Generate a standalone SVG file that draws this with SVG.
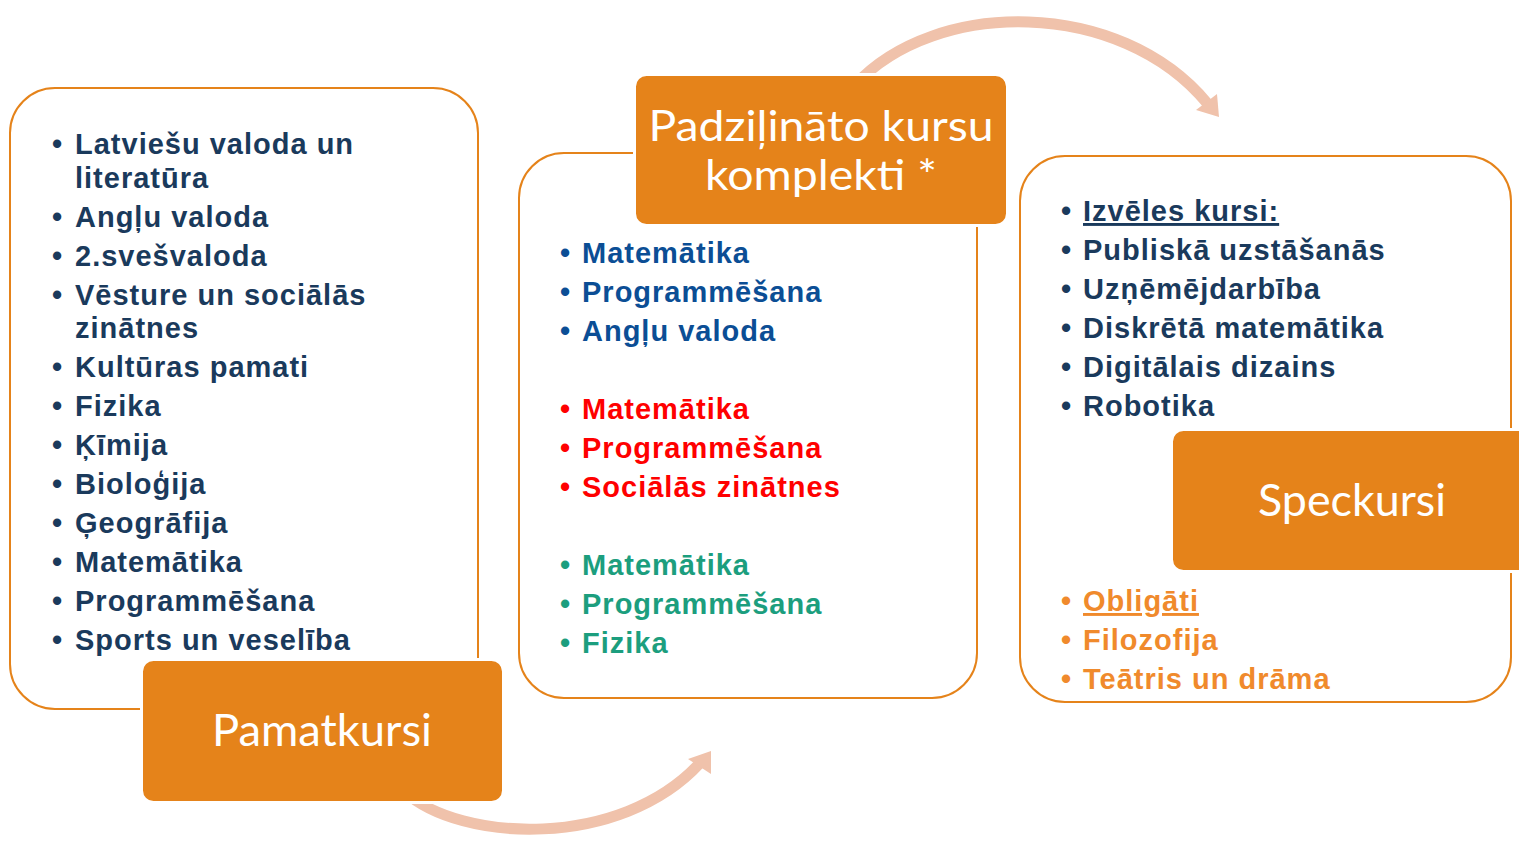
<svg xmlns="http://www.w3.org/2000/svg" width="1519" height="842" viewBox="0 0 1519 842">
<style>
.cont{fill:#fff;stroke:#e5831a;stroke-width:2}
.head{fill:#e5831a;stroke:#fff;stroke-width:3}
.ht{font-family:Lato,"Open Sans",sans-serif;font-size:45px;fill:#fff;text-anchor:middle}
.ht2{font-family:Lato,"Open Sans",sans-serif;font-size:42px;fill:#fff;text-anchor:middle}
.li{font-family:"Liberation Sans",Arial,sans-serif;font-weight:bold;font-size:29px;letter-spacing:1px}
.navy{fill:#1a3a5c}
.blue{fill:#0b4e95}
.red{fill:#ff0000}
.teal{fill:#1c9e7e}
.orng{fill:#f08a2c}
.arc{fill:none;stroke:#f0c2ab;stroke-width:11}
.ah{fill:#f0c2ab}
</style>
<rect width="1519" height="842" fill="#fff"/>
<g id="connectors">
<path class="arc" d="M405,792 C460,842 620,850 700,763"/>
<polygon class="ah" points="688,759 711,751 711,774"/>
<path class="arc" d="M855,85 C935,-2 1120,-2 1207,103"/>
<polygon class="ah" points="1196,110 1219,117 1217,94"/>
</g>
<g id="node-pamatkursi">
<rect class="cont" x="10" y="88" width="468" height="621" rx="45"/>
<text class="li navy">
<tspan x="52" y="154">•</tspan><tspan x="75" y="154">Latviešu valoda un</tspan>
<tspan x="75" y="188">literatūra</tspan>
<tspan x="52" y="227">•</tspan><tspan x="75" y="227">Angļu valoda</tspan>
<tspan x="52" y="266">•</tspan><tspan x="75" y="266">2.svešvaloda</tspan>
<tspan x="52" y="305">•</tspan><tspan x="75" y="305">Vēsture un sociālās</tspan>
<tspan x="75" y="338">zinātnes</tspan>
<tspan x="52" y="377">•</tspan><tspan x="75" y="377">Kultūras pamati</tspan>
<tspan x="52" y="416">•</tspan><tspan x="75" y="416">Fizika</tspan>
<tspan x="52" y="455">•</tspan><tspan x="75" y="455">Ķīmija</tspan>
<tspan x="52" y="494">•</tspan><tspan x="75" y="494">Bioloģija</tspan>
<tspan x="52" y="533">•</tspan><tspan x="75" y="533">Ģeogrāfija</tspan>
<tspan x="52" y="572">•</tspan><tspan x="75" y="572">Matemātika</tspan>
<tspan x="52" y="611">•</tspan><tspan x="75" y="611">Programmēšana</tspan>
<tspan x="52" y="650">•</tspan><tspan x="75" y="650">Sports un veselība</tspan>
</text>
<rect class="head" x="141.5" y="659.5" width="362" height="143" rx="12"/>
<text class="ht" x="322" y="746" textLength="220" lengthAdjust="spacingAndGlyphs">Pamatkursi</text>
</g>
<g id="node-padzilinato">
<rect class="cont" x="519" y="153" width="458" height="545" rx="45"/>
<rect class="head" x="634.5" y="74.5" width="373" height="151" rx="12"/>
<text class="ht2" x="821" y="141" textLength="345" lengthAdjust="spacingAndGlyphs">Padziļināto kursu</text>
<text class="ht2" x="821" y="190" textLength="232" lengthAdjust="spacingAndGlyphs">komplekti *</text>
<text class="li">
<tspan class="blue" x="560" y="263">•</tspan><tspan class="blue" x="582" y="263">Matemātika</tspan>
<tspan class="blue" x="560" y="302">•</tspan><tspan class="blue" x="582" y="302">Programmēšana</tspan>
<tspan class="blue" x="560" y="341">•</tspan><tspan class="blue" x="582" y="341">Angļu valoda</tspan>
<tspan class="red" x="560" y="419">•</tspan><tspan class="red" x="582" y="419">Matemātika</tspan>
<tspan class="red" x="560" y="458">•</tspan><tspan class="red" x="582" y="458">Programmēšana</tspan>
<tspan class="red" x="560" y="497">•</tspan><tspan class="red" x="582" y="497">Sociālās zinātnes</tspan>
<tspan class="teal" x="560" y="575">•</tspan><tspan class="teal" x="582" y="575">Matemātika</tspan>
<tspan class="teal" x="560" y="614">•</tspan><tspan class="teal" x="582" y="614">Programmēšana</tspan>
<tspan class="teal" x="560" y="653">•</tspan><tspan class="teal" x="582" y="653">Fizika</tspan>
</text>
</g>
<g id="node-speckursi">
<rect class="cont" x="1020" y="156" width="491" height="546" rx="45"/>
<text class="li">
<tspan class="navy" x="1061" y="221">•</tspan><tspan class="navy" x="1083" y="221" text-decoration="underline">Izvēles kursi:</tspan>
<tspan class="navy" x="1061" y="260">•</tspan><tspan class="navy" x="1083" y="260">Publiskā uzstāšanās</tspan>
<tspan class="navy" x="1061" y="299">•</tspan><tspan class="navy" x="1083" y="299">Uzņēmējdarbība</tspan>
<tspan class="navy" x="1061" y="338">•</tspan><tspan class="navy" x="1083" y="338">Diskrētā matemātika</tspan>
<tspan class="navy" x="1061" y="377">•</tspan><tspan class="navy" x="1083" y="377">Digitālais dizains</tspan>
<tspan class="navy" x="1061" y="416">•</tspan><tspan class="navy" x="1083" y="416">Robotika</tspan>
<tspan class="orng" x="1061" y="611">•</tspan><tspan class="orng" x="1083" y="611" text-decoration="underline">Obligāti</tspan>
<tspan class="orng" x="1061" y="650">•</tspan><tspan class="orng" x="1083" y="650">Filozofija</tspan>
<tspan class="orng" x="1061" y="689">•</tspan><tspan class="orng" x="1083" y="689">Teātris un drāma</tspan>
</text>
<rect class="head" x="1171.5" y="429.5" width="370" height="142" rx="12"/>
<text class="ht" x="1352" y="516" textLength="188" lengthAdjust="spacingAndGlyphs">Speckursi</text>
</g>
</svg>
